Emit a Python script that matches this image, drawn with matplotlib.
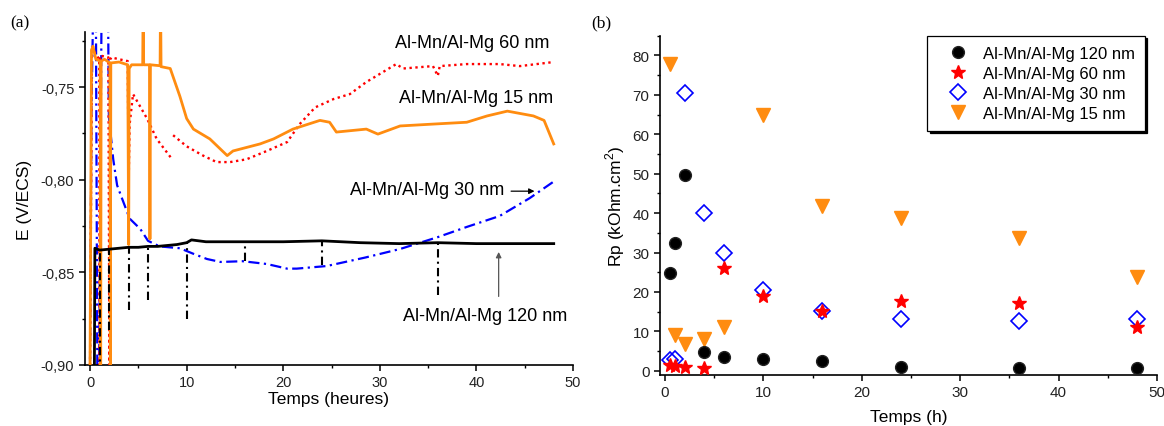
import numpy as np
import matplotlib
matplotlib.use("Agg")
import matplotlib.pyplot as plt
from matplotlib.ticker import MultipleLocator, FuncFormatter

plt.rcParams['font.family'] = ['Liberation Sans', 'DejaVu Sans']
plt.rcParams['mathtext.fontset'] = 'custom'
plt.rcParams['mathtext.rm'] = 'Liberation Sans'

# ---- (a) open circuit potential vs time ----
nan = np.nan
t_120 = [0.45, 0.5, 1.0, 2.0, 3.0, 4.0, 5.0, 6.0, 7.0, 8.0, 9.0, 10.0, 10.5, 12.0,
         16.0, 20.0, 24.0, 28.0, 32.0, 36.0, 40.0, 44.0, 48.0]
E_120 = [-0.90, -0.837, -0.838, -0.8375, -0.837, -0.8365, -0.8365, -0.836, -0.836,
         -0.8355, -0.835, -0.834, -0.8325, -0.8335, -0.8335, -0.8335, -0.833, -0.834,
         -0.8345, -0.834, -0.8345, -0.8345, -0.8345]
spike_t_120 = [1.0, 2.0, 4.0, 6.0, 10.0, 16.0, 24.0, 36.0]
spike_min_120 = [-0.905, -0.881, -0.8705, -0.865, -0.875, -0.844, -0.846, -0.862]

t_30 = [0.0, 0.15, 0.35, 0.6, 0.75, 0.95, 1.2, 1.85, 1.95, 2.4, 2.8, 3.3, 4.1, 5.2,
        6.0, 7.2, 9.3, 10.7, 12.1, 13.5, 15.8, 18.3, 20.4, 21.4, 24.5, 28.5, 32.1,
        36.0, 39.0, 42.4, 45.5, 48.0]
E_30 = [-0.898, -0.76, -0.70, -0.70, -0.90, -0.90, -0.70, -0.70, -0.766, -0.789,
        -0.803, -0.810, -0.821, -0.8266, -0.833, -0.836, -0.837, -0.840, -0.8428,
        -0.8444, -0.844, -0.8455, -0.848, -0.848, -0.8466, -0.842, -0.8374, -0.831,
        -0.8255, -0.8196, -0.810, -0.801]

t_60 = [0.0, 0.2, 0.3, 0.95, 1.0, 1.05, 1.9, 2.0, 2.1, 2.2, 3.0, 3.9, 4.0, 4.1, 4.45,
        5.9, 6.9, 8.5, nan, 8.6, 10.0, 11.7, 13.1, 14.5, 16.2, 18.3, 20.4, 21.7, 23.3,
        25.2, 26.9, 28.6, 31.7, 32.4, 35.5, 36.0, 36.2, 39.0, 42.4, 44.5, 48.0]
E_60 = [-0.90, -0.728, -0.730, -0.735, -0.90, -0.733, -0.734, -0.90, -0.735, -0.734,
        -0.735, -0.736, -0.80, -0.77, -0.7538, -0.767, -0.778, -0.789, nan, -0.776,
        -0.782, -0.787, -0.7905, -0.7905, -0.789, -0.7845, -0.7797, -0.770, -0.761,
        -0.7565, -0.7538, -0.7473, -0.7376, -0.740, -0.7387, -0.744, -0.7387, -0.7376,
        -0.7376, -0.7387, -0.7365]

t_15 = [0.0, 0.15, 0.3, 0.6, 1.05, 1.1, 1.15, 1.5, 2.05, 2.1, 2.15, 3.0, 3.9, 4.0,
        4.05, 4.3, 5.45, 5.5, 5.55, 6.15, 6.2, 6.25, 7.25, 7.3, 7.35, 8.3, 9.3, 10.0,
        10.7, 12.4, 14.2, 14.8, 17.6, 19.0, 21.0, 23.8, 24.8, 25.5, 28.6, 29.8, 32.1,
        35.5, 39.0, 41.1, 43.2, 45.9, 47.0, 48.0]
E_15 = [-0.90, -0.73, -0.728, -0.735, -0.736, -0.90, -0.736, -0.735, -0.737, -0.90,
        -0.737, -0.7365, -0.738, -0.835, -0.74, -0.738, -0.738, -0.70, -0.738, -0.738,
        -0.832, -0.738, -0.7385, -0.70, -0.739, -0.740, -0.755, -0.767, -0.7727,
        -0.778, -0.787, -0.7845, -0.7807, -0.778, -0.7727, -0.768, -0.769, -0.7743,
        -0.7727, -0.7754, -0.771, -0.770, -0.769, -0.7656, -0.763, -0.7656, -0.768,
        -0.7807]

# ---- (b) polarisation resistance ----
t_rp = [0.5, 1, 2, 4, 6, 10, 16, 24, 36, 48]
rp_120 = [24.8, 32.5, 49.6, 4.9, 3.6, 3.1, 2.6, 1.0, 0.8, 0.8]
rp_60 = [1.4, 1.2, 0.9, 0.8, 26.0, 19.0, 15.3, 17.6, 17.1, 11.2]
rp_30 = [2.7, 3.0, 70.4, 40.1, 29.9, 20.6, 15.3, 13.2, 12.7, 13.1]
rp_15 = [77.8, 9.1, 6.9, 8.0, 11.0, 64.8, 41.9, 38.8, 33.8, 23.8]

orange = '#FF8C10'

fig = plt.figure(figsize=(11.64, 4.27), dpi=100)

ax1 = fig.add_axes([0.0728, 0.1429, 0.4195, 0.7798])
ax1.plot(t_30, E_30, color='blue', lw=1.6, ls=(0, (5, 2, 1, 2)), zorder=2)
ax1.plot(t_60, E_60, color='red', lw=1.7, ls=(0, (1, 1.5)), zorder=3)
ax1.plot(t_15, E_15, color=orange, lw=2.0, zorder=4)
ax1.plot(t_120, E_120, color='black', lw=2.0, zorder=5)
base = np.interp(spike_t_120, t_120, E_120)
ax1.vlines(spike_t_120, spike_min_120, base, colors='black', lw=1.5,
           linestyles=(0, (4, 2, 1, 2)), zorder=5)

ax1.set_xlim(-0.55, 50)
ax1.set_ylim(-0.90, -0.7203)
ax1.xaxis.set_major_locator(MultipleLocator(10))
ax1.xaxis.set_minor_locator(MultipleLocator(5))
ax1.yaxis.set_major_locator(MultipleLocator(0.05))
ax1.yaxis.set_minor_locator(MultipleLocator(0.025))
ax1.yaxis.set_major_formatter(FuncFormatter(lambda v, p: f"{v:.2f}".replace('.', ',')))
ax1.set_xlabel('Temps (heures)', fontsize=12.5, labelpad=1)
ax1.set_ylabel('E (V/ECS)', fontsize=12.5, labelpad=6)

ax1.text(47.6, -0.7257, 'Al-Mn/Al-Mg 60 nm', fontsize=13, ha='right', va='center')
ax1.text(47.9, -0.7559, 'Al-Mn/Al-Mg 15 nm', fontsize=13, ha='right', va='center')
ax1.text(42.9, -0.8052, 'Al-Mn/Al-Mg 30 nm', fontsize=13, ha='right', va='center')
ax1.annotate('', xy=(46.3, -0.8062), xytext=(43.3, -0.8062),
             arrowprops=dict(arrowstyle='-|>', color='black', lw=0.9,
                             mutation_scale=8))
ax1.text(49.4, -0.8732, 'Al-Mn/Al-Mg 120 nm', fontsize=13, ha='right', va='center')
ax1.annotate('', xy=(42.3, -0.8375), xytext=(42.3, -0.8645),
             arrowprops=dict(arrowstyle='-|>', color='#555555', lw=0.9,
                             mutation_scale=8))

ax2 = fig.add_axes([0.567, 0.120, 0.427, 0.794])
ax2.plot(t_rp, rp_120, 'o', color='black', ms=8.5, mec='#222222',
         label='Al-Mn/Al-Mg 120 nm', zorder=3)
ax2.plot(t_rp, rp_60, '*', color='red', ms=10.5, label='Al-Mn/Al-Mg 60 nm', zorder=4)
ax2.plot(t_rp, rp_30, 'D', mfc='none', mec='blue', mew=1.2, ms=8,
         label='Al-Mn/Al-Mg 30 nm', zorder=3)
ax2.plot(t_rp, rp_15, 'v', color=orange, ms=10, label='Al-Mn/Al-Mg 15 nm', zorder=2)
ax2.set_xlim(-0.5, 50)
ax2.set_ylim(-1, 85)
ax2.xaxis.set_major_locator(MultipleLocator(10))
ax2.xaxis.set_minor_locator(MultipleLocator(5))
ax2.yaxis.set_major_locator(MultipleLocator(10))
ax2.yaxis.set_minor_locator(MultipleLocator(5))
ax2.set_xlabel('Temps (h)', fontsize=12.5, labelpad=7)
ax2.set_ylabel('Rp (kOhm.cm$^2$)', fontsize=12.5, labelpad=4)
leg = ax2.legend(loc='upper right', bbox_to_anchor=(0.975, 1.0), borderaxespad=0,
                 fontsize=12, frameon=True, fancybox=False, edgecolor='black',
                 framealpha=1, handlelength=2.6, handletextpad=0.15, labelspacing=0.3,
                 borderpad=0.6, shadow={'color': 'black', 'alpha': 1})
leg.get_frame().set_linewidth(0.9)

for ax, fs in ((ax1, 10.5), (ax2, 11)):
    for side in ('top', 'right'):
        ax.spines[side].set_visible(False)
    for side in ('left', 'bottom'):
        ax.spines[side].set_linewidth(1.2)
    ax.tick_params(which='major', direction='out', length=4, width=1.1,
                   labelsize=fs, colors='black', labelcolor='#222222')
    ax.tick_params(which='minor', direction='out', length=2.5, width=1.0)

fig.text(20 / 1164, 1 - 23 / 427, '(a)', fontsize=12.5, family='Liberation Serif',
         ha='center', va='center')
fig.text(601 / 1164, 1 - 23 / 427, '(b)', fontsize=12.5, family='Liberation Serif',
         ha='center', va='center')

fig.savefig('out.png', dpi=100)
